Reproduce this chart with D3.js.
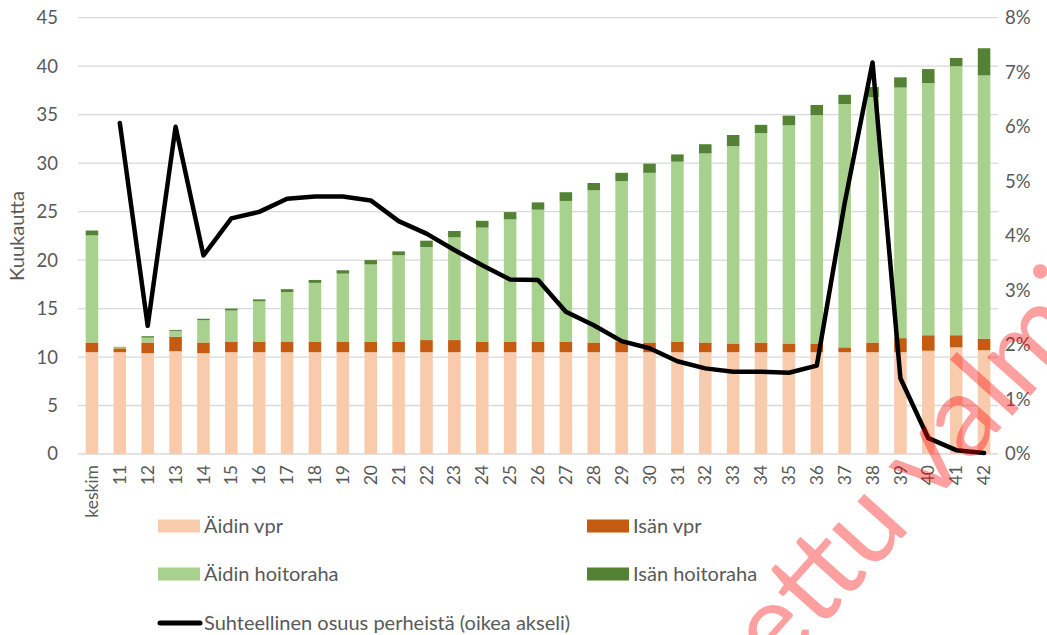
<!DOCTYPE html>
<html>
<head>
<meta charset="utf-8">
<script src="https://cdnjs.cloudflare.com/ajax/libs/d3/7.8.5/d3.min.js"></script>
<style>
  body { margin: 0; background: #fff; }
  text { font-family: Lato, "Open Sans", sans-serif; fill: #595959; }
</style>
</head>
<body>
<svg width="1047" height="635"></svg>
<script>
// data
var categories = ["keskim","11","12","13","14","15","16","17","18","19","20","21","22","23","24","25","26",
                  "27","28","29","30","31","32","33","34","35","36","37","38","39","40","41","42"];
var aidinVpr   = [10.5,10.5,10.4,10.6,10.4,10.5,10.5,10.5,10.5,10.5,10.5,10.5,10.5,10.5,10.5,10.5,10.5,
                  10.5,10.5,10.5,10.5,10.5,10.5,10.5,10.5,10.5,10.5,10.5,10.5,10.5,10.65,11.0,10.7];
var isanVpr    = [1.0,0.4,1.1,1.5,1.1,1.1,1.1,1.1,1.1,1.1,1.1,1.1,1.25,1.25,1.1,1.1,1.1,
                  1.1,1.0,1.1,1.0,1.1,1.0,0.9,1.0,0.9,0.9,0.5,1.0,1.45,1.6,1.25,1.2];
var aidinHoito = [11.05,0.1,0.5,0.6,2.3,3.2,4.15,5.1,6.05,7.0,7.95,8.9,9.6,10.6,11.75,12.6,13.6,
                  14.5,15.7,16.55,17.5,18.55,19.5,20.35,21.6,22.5,23.55,25.1,25.3,25.85,26.0,27.75,27.15];
var isanHoito  = [0.5,0.05,0.15,0.1,0.15,0.2,0.2,0.3,0.3,0.35,0.45,0.4,0.65,0.65,0.7,0.75,0.75,
                  0.9,0.75,0.85,0.95,0.75,0.95,1.15,0.85,1.0,1.05,0.95,1.05,1.05,1.45,0.85,2.8];
// share of families, % (right axis)
var osuus      = [null,6.07,2.35,6.0,3.64,4.32,4.44,4.68,4.72,4.72,4.65,4.27,4.04,3.74,3.46,3.20,3.19,
                  2.61,2.36,2.07,1.94,1.70,1.57,1.51,1.51,1.49,1.62,4.6,7.18,1.39,0.29,0.07,0.02];
var leftTicks  = [0,5,10,15,20,25,30,35,40,45];
var rightTicks = [0,1,2,3,4,5,6,7,8];
var seriesNames = ["Äidin vpr","Isän vpr","Äidin hoitoraha","Isän hoitoraha"];
var lineName = "Suhteellinen osuus perheistä (oikea akseli)";

var colors = ["#f8cbad","#c55a11","#a9d18e","#548235"];

var svg = d3.select("svg"),
    plotLeft = 78, plotRight = 998, plotTop = 17.7, plotBottom = 454;

var rows = categories.map(function(c, i) {
  return { cat: c, a: aidinVpr[i], b: isanVpr[i], c: aidinHoito[i], d: isanHoito[i] };
});

var x = d3.scaleBand().domain(categories).range([plotLeft, plotRight]).paddingInner(0.55).paddingOuter(0.275);
var y = d3.scaleLinear().domain([0, 45]).range([plotBottom, plotTop]);
var y2 = d3.scaleLinear().domain([0, 8]).range([plotBottom, plotTop]);

// gridlines
svg.append("g")
  .selectAll("line")
  .data(leftTicks)
  .enter().append("line")
    .attr("x1", plotLeft).attr("x2", plotRight)
    .attr("y1", function(d) { return y(d); })
    .attr("y2", function(d) { return y(d); })
    .attr("stroke", "#d9d9d9")
    .attr("stroke-width", 1.3);

// left axis labels
svg.append("g")
  .selectAll("text")
  .data(leftTicks)
  .enter().append("text")
    .attr("x", 58)
    .attr("y", function(d) { return y(d); })
    .attr("dy", "0.35em")
    .attr("text-anchor", "end")
    .style("font-size", "18.5px")
    .text(function(d) { return d; });

// right axis labels
svg.append("g")
  .selectAll("text")
  .data(rightTicks)
  .enter().append("text")
    .attr("x", 1005)
    .attr("y", function(d) { return y2(d); })
    .attr("dy", "0.35em")
    .style("font-size", "18.5px")
    .text(function(d) { return d + "%"; });

svg.append("text")
  .attr("transform", "translate(24,236)rotate(-90)")
  .attr("text-anchor", "middle")
  .style("font-size", "20px")
  .text("Kuukautta");

// stacked bars
var stack = d3.stack().keys(["a","b","c","d"])(rows);
svg.append("g")
  .selectAll("g")
  .data(stack)
  .enter().append("g")
    .attr("fill", function(d, i) { return colors[i]; })
  .selectAll("rect")
  .data(function(d) { return d; })
  .enter().append("rect")
    .attr("x", function(d) { return x(d.data.cat); })
    .attr("width", x.bandwidth())
    .attr("y", function(d) { return y(d[1]); })
    .attr("height", function(d) { return y(d[0]) - y(d[1]); });

// category labels, rotated
svg.append("g")
  .selectAll("text")
  .data(categories)
  .enter().append("text")
    .attr("transform", function(d) {
      return "translate(" + (x(d) + x.bandwidth() / 2) + ",465)rotate(-90)";
    })
    .attr("dy", "0.35em")
    .attr("text-anchor", "end")
    .style("font-size", "17.5px")
    .text(function(d) { return d; });

// share line
var line = d3.line()
  .defined(function(d) { return d != null; })
  .x(function(d, i) { return x(categories[i]) + x.bandwidth() / 2; })
  .y(function(d) { return y2(d); });

svg.append("path")
  .datum(osuus)
  .attr("fill", "none")
  .attr("stroke", "#000")
  .attr("stroke-width", 4.5)
  .attr("stroke-linejoin", "round")
  .attr("stroke-linecap", "round")
  .attr("d", line);

// legend
var legendPos = [[158, 526], [587, 526], [158, 574], [587, 574]];
var legend = svg.append("g")
  .selectAll("g")
  .data(seriesNames)
  .enter().append("g")
    .attr("transform", function(d, i) { return "translate(" + legendPos[i][0] + "," + legendPos[i][1] + ")"; });

legend.append("rect")
  .attr("y", -6.5)
  .attr("width", 42)
  .attr("height", 13)
  .attr("fill", function(d, i) { return colors[i]; });

legend.append("text")
  .attr("x", 46)
  .attr("dy", "0.35em")
  .style("font-size", "20px")
  .text(function(d) { return d; });

var lineLegend = svg.append("g").attr("transform", "translate(158,623)");
lineLegend.append("line")
  .attr("x1", 2).attr("x2", 42)
  .attr("stroke", "#000")
  .attr("stroke-width", 5)
  .attr("stroke-linecap", "round");
lineLegend.append("text")
  .attr("x", 46)
  .attr("dy", "0.35em")
  .style("font-size", "20px")
  .text(lineName);

// watermark
var wm = svg.append("g")
  .attr("transform", "translate(778,676)rotate(-48)")
  .style("opacity", 0.37);
wm.append("text")
  .attr("text-anchor", "end")
  .style("font-size", "114px")
  .style("fill", "#ff0000")
  .text("Lask");
wm.append("text")
  .style("font-size", "114px")
  .style("fill", "#ff0000")
  .text("ettu valmiiksi");
</script>
</body>
</html>
